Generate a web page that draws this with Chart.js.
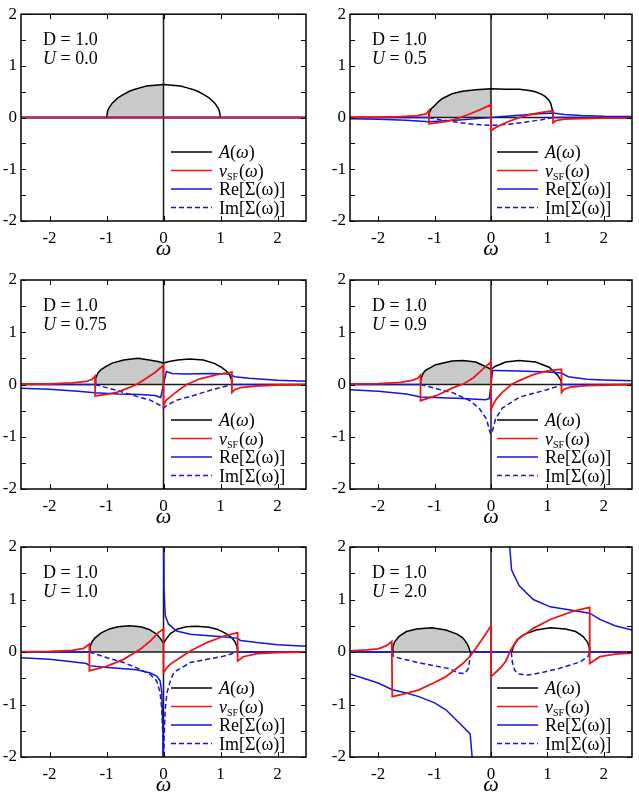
<!DOCTYPE html>
<html><head><meta charset="utf-8">
<script src="https://cdn.jsdelivr.net/npm/chart.js@4.4.0/dist/chart.umd.min.js"></script>
<style>
html,body{margin:0;padding:0;background:#fff;}
body{width:639px;height:794px;position:relative;overflow:hidden;}
canvas{position:absolute;}
</style></head><body>
<script>
// ---------- tick labels / text ----------
const xTicks = [-2, -1, 0, 1, 2];
const yTicks = [-2, -1, 0, 1, 2];
const yTickMarks = [-2, -1.5, -1, -0.5, 0, 0.5, 1, 1.5, 2];
const dValue = '1.0';
const uValues = ['0.0', '0.5', '0.75', '0.9', '1.0', '2.0'];
const xTitle = 'ω';

// ---------- U = 0.0 ----------
const A_U00 = [[-1,0],[-0.98,0.13],[-0.95,0.2],[-0.9,0.28],[-0.8,0.38],[-0.7,0.45],[-0.6,0.51],[-0.5,0.55],[-0.4,0.58],[-0.3,0.61],[-0.2,0.62],[-0.1,0.63],[0,0.64],[0.1,0.63],[0.2,0.62],[0.3,0.61],[0.4,0.58],[0.5,0.55],[0.6,0.51],[0.7,0.45],[0.8,0.38],[0.9,0.28],[0.95,0.2],[0.98,0.13],[1,0]];
const v_U00 = [[-2.5,0],[2.5,0]];
const re_U00 = [[-2.5,0],[2.5,0]];
const im_U00 = [[-2.5,0],[2.5,0]];

// ---------- U = 0.5 ----------
const A_U05 = [[-1.1,0],[-1.09,0.1],[-1.06,0.17],[-1.01,0.22],[-0.93,0.31],[-0.86,0.37],[-0.69,0.46],[-0.51,0.51],[-0.27,0.54],[0,0.56],[0.27,0.55],[0.5,0.55],[0.65,0.53],[0.79,0.5],[0.9,0.45],[0.97,0.4],[1.03,0.33],[1.06,0.27],[1.09,0.14],[1.1,0]];
const v_U05 = [[-2.5,0.01],[-2,0.01],[-1.6,0.02],[-1.3,0.04],[-1.15,0.07],[-1.1,0.14],[-1.1,-0.12],[-0.8,-0.08],[-0.6,-0.02],[-0.4,0.06],[-0.2,0.15],[0,0.25],[0,-0.25],[0.1,-0.18],[0.3,-0.08],[0.5,0],[0.7,0.06],[0.9,0.1],[1.1,0.13],[1.1,-0.1],[1.15,-0.06],[1.3,-0.03],[1.6,-0.02],[2,-0.01],[2.5,-0.01]];
const re_U05 = [[-2.5,-0.02],[-2,-0.03],[-1.5,-0.05],[-1.1,-0.08],[-0.8,-0.06],[-0.5,-0.04],[-0.2,-0.015],[0,0],[0.2,0.02],[0.5,0.045],[0.8,0.07],[1.1,0.09],[1.3,0.06],[1.6,0.04],[2,0.025],[2.5,0.02]];
const im_U05 = [[-2.5,0],[-1.1,0],[-0.9,-0.04],[-0.6,-0.09],[-0.3,-0.13],[0,-0.15],[0.3,-0.13],[0.6,-0.09],[0.9,-0.04],[1.1,0],[2.5,0]];

// ---------- U = 0.75 ----------
const A_U075 = [[-1.2,0],[-1.19,0.12],[-1.15,0.22],[-1.1,0.28],[-1.0,0.35],[-0.9,0.41],[-0.7,0.47],[-0.45,0.5],[-0.25,0.47],[-0.1,0.44],[0,0.41],[0.1,0.44],[0.25,0.47],[0.45,0.49],[0.7,0.47],[0.9,0.4],[1.0,0.34],[1.1,0.26],[1.15,0.2],[1.19,0.1],[1.2,0]];
const v_U075 = [[-2.5,0.01],[-2,0.01],[-1.6,0.03],[-1.35,0.06],[-1.25,0.1],[-1.2,0.16],[-1.2,-0.22],[-1.0,-0.19],[-0.82,-0.15],[-0.65,-0.08],[-0.47,0],[-0.3,0.12],[-0.15,0.23],[0,0.37],[0,-0.4],[0.05,-0.3],[0.18,-0.18],[0.3,-0.08],[0.41,0],[0.64,0.11],[0.94,0.19],[1.2,0.24],[1.2,-0.15],[1.25,-0.1],[1.35,-0.06],[1.6,-0.03],[2,-0.01],[2.5,-0.005]];
const re_U075 = [[-2.5,-0.07],[-2,-0.09],[-1.5,-0.13],[-1.2,-0.16],[-0.8,-0.18],[-0.4,-0.19],[-0.15,-0.21],[-0.05,-0.25],[0,0],[0.05,0.25],[0.15,0.21],[0.4,0.2],[0.8,0.21],[1.15,0.2],[1.25,0.15],[1.5,0.12],[2,0.08],[2.5,0.06]];
const im_U075 = [[-2.5,0],[-1.2,0],[-1.0,-0.06],[-0.82,-0.11],[-0.53,-0.21],[-0.23,-0.3],[-0.06,-0.4],[0,-0.45],[0.06,-0.4],[0.23,-0.3],[0.53,-0.21],[0.82,-0.11],[1.0,-0.06],[1.2,0],[2.5,0]];

// ---------- U = 0.9 ----------
const A_U09 = [[-1.25,0],[-1.24,0.12],[-1.2,0.22],[-1.16,0.27],[-0.98,0.38],[-0.69,0.45],[-0.5,0.46],[-0.27,0.43],[-0.09,0.34],[0,0.29],[0.08,0.35],[0.26,0.43],[0.5,0.46],[0.79,0.43],[1.03,0.33],[1.18,0.18],[1.24,0.08],[1.25,0]];
const v_U09 = [[-2.5,0.01],[-2,0.015],[-1.6,0.04],[-1.4,0.08],[-1.3,0.12],[-1.25,0.18],[-1.25,-0.31],[-0.96,-0.21],[-0.67,-0.06],[-0.49,0.01],[-0.31,0.13],[-0.14,0.3],[0,0.43],[0,-0.47],[0.05,-0.36],[0.1,-0.27],[0.2,-0.15],[0.28,-0.08],[0.36,0],[0.51,0.08],[0.75,0.19],[1.0,0.26],[1.25,0.29],[1.25,-0.15],[1.3,-0.09],[1.4,-0.05],[1.7,-0.02],[2.5,0]];
const re_U09 = [[-2.5,-0.1],[-2,-0.13],[-1.5,-0.18],[-1.25,-0.24],[-1.0,-0.25],[-0.5,-0.27],[-0.1,-0.29],[-0.03,-0.27],[0,0],[0.03,0.27],[0.1,0.27],[0.5,0.26],[1.0,0.24],[1.25,0.22],[1.37,0.15],[1.7,0.1],[2.0,0.085],[2.5,0.07]];
const im_U09 = [[-2.5,0],[-1.25,0],[-0.96,-0.08],[-0.67,-0.16],[-0.37,-0.31],[-0.2,-0.47],[-0.08,-0.66],[-0.02,-0.91],[0,-0.95],[0.02,-0.91],[0.08,-0.66],[0.2,-0.45],[0.51,-0.24],[0.99,-0.1],[1.2,-0.03],[1.25,0],[2.5,0]];

// ---------- U = 1.0 ----------
const A_U10 = [[-1.3,0],[-1.29,0.1],[-1.25,0.2],[-1.2,0.27],[-1.1,0.36],[-0.95,0.44],[-0.8,0.48],[-0.6,0.5],[-0.4,0.48],[-0.25,0.43],[-0.12,0.34],[-0.05,0.25],[0,0.17],[0.05,0.25],[0.12,0.35],[0.25,0.44],[0.4,0.48],[0.58,0.49],[0.8,0.47],[0.95,0.43],[1.1,0.35],[1.2,0.27],[1.25,0.2],[1.29,0.1],[1.3,0]];
const v_U10 = [[-2.5,0.005],[-2,0.01],[-1.6,0.03],[-1.4,0.07],[-1.3,0.15],[-1.3,-0.36],[-0.99,-0.27],[-0.7,-0.14],[-0.53,-0.03],[-0.41,0.05],[-0.23,0.21],[-0.09,0.37],[0,0.44],[0,-0.4],[0.05,-0.31],[0.12,-0.23],[0.29,-0.11],[0.47,0.02],[0.76,0.18],[1.05,0.3],[1.3,0.37],[1.3,-0.17],[1.4,-0.09],[1.64,-0.03],[2,-0.01],[2.5,0]];
const re_U10 = [[-2.5,-0.11],[-2,-0.14],[-1.64,-0.18],[-1.35,-0.22],[-1.3,-0.26],[-1.05,-0.29],[-0.8,-0.31],[-0.47,-0.34],[-0.23,-0.4],[-0.12,-0.46],[-0.06,-0.55],[-0.03,-0.77],[-0.01,-1.5],[-0.002,-3],[0,null],[0.002,3],[0.01,1.2],[0.03,0.69],[0.09,0.53],[0.23,0.4],[0.47,0.34],[0.8,0.31],[1.05,0.29],[1.3,0.26],[1.35,0.22],[1.64,0.18],[2,0.14],[2.5,0.11]];
const im_U10 = [[-2.5,0],[-1.3,0],[-0.99,-0.11],[-0.7,-0.2],[-0.41,-0.33],[-0.23,-0.43],[-0.12,-0.55],[-0.06,-0.77],[-0.03,-1.09],[-0.01,-1.66],[0,-3],[0.01,-1.66],[0.03,-1.1],[0.06,-0.78],[0.12,-0.55],[0.18,-0.39],[0.47,-0.2],[0.76,-0.14],[1.05,-0.08],[1.3,0],[2.5,0]];

// ---------- U = 2.0 ----------
const A_U20 = [[-1.75,0],[-1.74,0.1],[-1.71,0.19],[-1.63,0.3],[-1.5,0.39],[-1.32,0.44],[-1.05,0.46],[-0.8,0.42],[-0.6,0.34],[-0.5,0.27],[-0.43,0.17],[-0.39,0.08],[-0.37,0],[0,null],[0.37,0],[0.39,0.08],[0.43,0.17],[0.5,0.27],[0.6,0.34],[0.8,0.42],[1.05,0.46],[1.32,0.44],[1.5,0.39],[1.63,0.3],[1.71,0.19],[1.74,0.1],[1.75,0]];
const v_U20 = [[-2.5,0.02],[-2.2,0.04],[-2,0.06],[-1.85,0.12],[-1.76,0.2],[-1.75,-0.85],[-1.5,-0.79],[-1.28,-0.72],[-1.0,-0.58],[-0.8,-0.47],[-0.5,-0.22],[-0.37,-0.08],[-0.25,0.1],[-0.12,0.3],[0,0.5],[0,-0.47],[0.16,-0.31],[0.26,-0.18],[0.34,0.02],[0.46,0.23],[0.62,0.35],[0.75,0.45],[1.05,0.62],[1.46,0.78],[1.75,0.85],[1.75,-0.22],[1.93,-0.09],[2.2,-0.04],[2.5,-0.02]];
const re_U20 = [[-2.5,-0.42],[-2,-0.59],[-1.75,-0.72],[-1.5,-0.78],[-1.28,-0.85],[-1.0,-0.97],[-0.8,-1.1],[-0.5,-1.42],[-0.37,-1.56],[-0.31,-2.3],[0,null],[0.31,2.3],[0.365,1.56],[0.5,1.26],[0.75,1.0],[1.05,0.86],[1.46,0.79],[1.75,0.74],[1.93,0.62],[2.2,0.5],[2.5,0.42]];
const im_U20 = [[-2.5,0],[-1.75,0],[-1.73,-0.08],[-1.62,-0.12],[-1.3,-0.2],[-1.02,-0.26],[-0.73,-0.32],[-0.58,-0.4],[-0.46,-0.41],[-0.4,-0.31],[-0.37,-0.1],[-0.36,0],[0.36,0],[0.38,-0.2],[0.42,-0.35],[0.5,-0.42],[0.65,-0.44],[0.87,-0.4],[1.22,-0.31],[1.58,-0.19],[1.72,-0.08],[1.75,0],[2.5,0]];

const A_list  = [A_U00, A_U05, A_U075, A_U09, A_U10, A_U20];
const v_list  = [v_U00, v_U05, v_U075, v_U09, v_U10, v_U20];
const re_list = [re_U00, re_U05, re_U075, re_U09, re_U10, re_U20];
const im_list = [im_U00, im_U05, im_U075, im_U09, im_U10, im_U20];

// legend text (runs: i = italic, sub = subscript)
const legendNames = [
  [{t:'A',i:1},{t:'('},{t:'ω',i:1},{t:')'}],
  [{t:'v',i:1},{t:'SF',sub:1},{t:'('},{t:'ω',i:1},{t:')'}],
  [{t:'Re[Σ(ω)]'}],
  [{t:'Im[Σ(ω)]'}]
];

// ---------- styles ----------
const SERIF = '"Liberation Serif","Times New Roman",serif';
Chart.defaults.font.family = SERIF;
Chart.defaults.color = '#000';
const RED = '#ee1515', BLUE = '#1414dc', GREY = '#c9c9c9';
const DASH = [5, 3];
const legendStyles = [{c:'#000',d:[]},{c:RED,d:[]},{c:BLUE,d:[]},{c:BLUE,d:DASH}];
const COL = [{left:0,width:319,axisW:21,padR:13},{left:319,width:320,axisW:31,padR:7}];
const ROW = [{top:0,height:265,padT:13,plotH:208},{top:265,height:265,padT:15,plotH:209},{top:530,height:264,padT:17,plotH:210}];

function toXY(arr){ return arr.map(([x,y]) => ({x:x, y:y})); }

function drawRuns(ctx, x, y, runs, size){
  ctx.textBaseline = 'alphabetic';
  ctx.textAlign = 'left';
  for (const r of runs){
    const sz = r.sub ? Math.round(size*0.55) : size;
    ctx.font = (r.i ? 'italic ' : '') + sz + 'px ' + SERIF;
    const dy = r.sub ? 3 : 0;
    ctx.fillText(r.t, x, y + dy);
    x += ctx.measureText(r.t).width + (r.sub ? 1 : 0);
  }
}

const FILL_INDEX = 4;

const deco = {
  id: 'deco',
  afterDatasetDraw(chart, args){
    if (args.index !== FILL_INDEX) return;
    const {ctx, chartArea:{left,right,top,bottom}, scales:{x,y}} = chart;
    ctx.save();
    ctx.strokeStyle = '#1a1a1a';
    ctx.lineWidth = 1.5;
    const x0 = x.getPixelForValue(0), y0 = y.getPixelForValue(0);
    ctx.beginPath();
    ctx.moveTo(x0, top); ctx.lineTo(x0, bottom);
    ctx.moveTo(left, y0); ctx.lineTo(right, y0);
    ctx.stroke();
    ctx.restore();
  },
  afterDatasetsDraw(chart, args, opts){
    const {ctx, chartArea:{left,right,top,bottom}, scales:{x,y}} = chart;
    ctx.save();
    // frame
    ctx.strokeStyle = '#000';
    ctx.lineWidth = 1.5;
    ctx.strokeRect(left, top, right-left, bottom-top);
    // inward tick marks
    ctx.lineWidth = 1;
    ctx.beginPath();
    for (const v of xTicks){
      const px = Math.round(x.getPixelForValue(v)) + 0.5;
      ctx.moveTo(px, bottom); ctx.lineTo(px, bottom-5);
      ctx.moveTo(px, top); ctx.lineTo(px, top+5);
    }
    for (const v of yTickMarks){
      const py = Math.round(y.getPixelForValue(v)) + 0.5;
      ctx.moveTo(left, py); ctx.lineTo(left+5, py);
      ctx.moveTo(right, py); ctx.lineTo(right-5, py);
    }
    ctx.stroke();
    ctx.fillStyle = '#000';
    // x-axis title
    ctx.font = 'italic 22px ' + SERIF;
    ctx.textAlign = 'center';
    ctx.textBaseline = 'middle';
    ctx.fillText(xTitle, (left+right)/2, bottom + 28);
    // D / U labels
    drawRuns(ctx, left + 22, top + 31, [{t:'D = ' + dValue}], 18);
    drawRuns(ctx, left + 22, top + 50, [{t:'U',i:1},{t:' = ' + opts.U}], 18);
    // legend
    const rowsY = [bottom-69, bottom-50.5, bottom-32, bottom-13.5];
    legendNames.forEach((runs, k) => {
      const st = legendStyles[k];
      ctx.strokeStyle = st.c;
      ctx.lineWidth = 1.5;
      ctx.setLineDash(st.d);
      ctx.beginPath();
      ctx.moveTo(right-135, rowsY[k]); ctx.lineTo(right-94, rowsY[k]);
      ctx.stroke();
      ctx.setLineDash([]);
      ctx.fillStyle = '#000';
      drawRuns(ctx, right-87, rowsY[k] + 6, runs, 18);
    });
    ctx.restore();
  }
};

uValues.forEach((U, i) => {
  const c = COL[i % 2], r = ROW[Math.floor(i / 2)];
  const cv = document.createElement('canvas');
  cv.width = c.width; cv.height = r.height;
  cv.style.left = c.left + 'px'; cv.style.top = r.top + 'px';
  cv.style.width = c.width + 'px'; cv.style.height = r.height + 'px';
  document.body.appendChild(cv);
  const xAxisH = r.height - r.padT - r.plotH;
  const A = A_list[i];
  const fillPts = A.filter(([px, py]) => py !== null && px <= 0);
  const lineBase = {showLine:true, pointRadius:0, pointHoverRadius:0, borderWidth:1.5, tension:0, spanGaps:false};
  // first dataset in the array is drawn on top
  new Chart(cv, {
    type: 'scatter',
    data: {datasets: [
      Object.assign({}, lineBase, {data: toXY(v_list[i]), borderColor:RED, borderWidth:1.8}),
      Object.assign({}, lineBase, {data: toXY(re_list[i]), borderColor:BLUE}),
      Object.assign({}, lineBase, {data: toXY(im_list[i]), borderColor:BLUE, borderDash:DASH,
        segment:{borderDash: s => (s.p0.parsed.y === 0 && s.p1.parsed.y === 0) ? [] : DASH}}),
      Object.assign({}, lineBase, {data: toXY(A), borderColor:'#000'}),
      Object.assign({}, lineBase, {data: toXY(fillPts), fill:'origin', backgroundColor:GREY, borderWidth:0, borderColor:'rgba(0,0,0,0)'})
    ]},
    options: {
      responsive:false, animation:false, devicePixelRatio:1, events:[],
      layout:{padding:{top:r.padT, right:c.padR, left:0, bottom:0}},
      plugins:{legend:{display:false}, tooltip:{enabled:false}, deco:{U:U}},
      scales:{
        x:{type:'linear', min:-2.5, max:2.5,
          afterBuildTicks: s => { s.ticks = xTicks.map(v => ({value:v})); },
          afterFit: s => { s.height = xAxisH; },
          grid:{display:false, drawTicks:false}, border:{display:false},
          ticks:{padding:7, color:'#000', font:{family:SERIF, size:17}, maxRotation:0, autoSkip:false, callback: v => String(v)}},
        y:{type:'linear', min:-2, max:2,
          afterBuildTicks: s => { s.ticks = yTicks.map(v => ({value:v})); },
          afterFit: s => { s.width = c.axisW; },
          grid:{display:false, drawTicks:false}, border:{display:false},
          ticks:{padding:4, color:'#000', font:{family:SERIF, size:17}, callback: v => String(v)}}
      }
    },
    plugins:[deco]
  });
});
</script>
</body></html>
